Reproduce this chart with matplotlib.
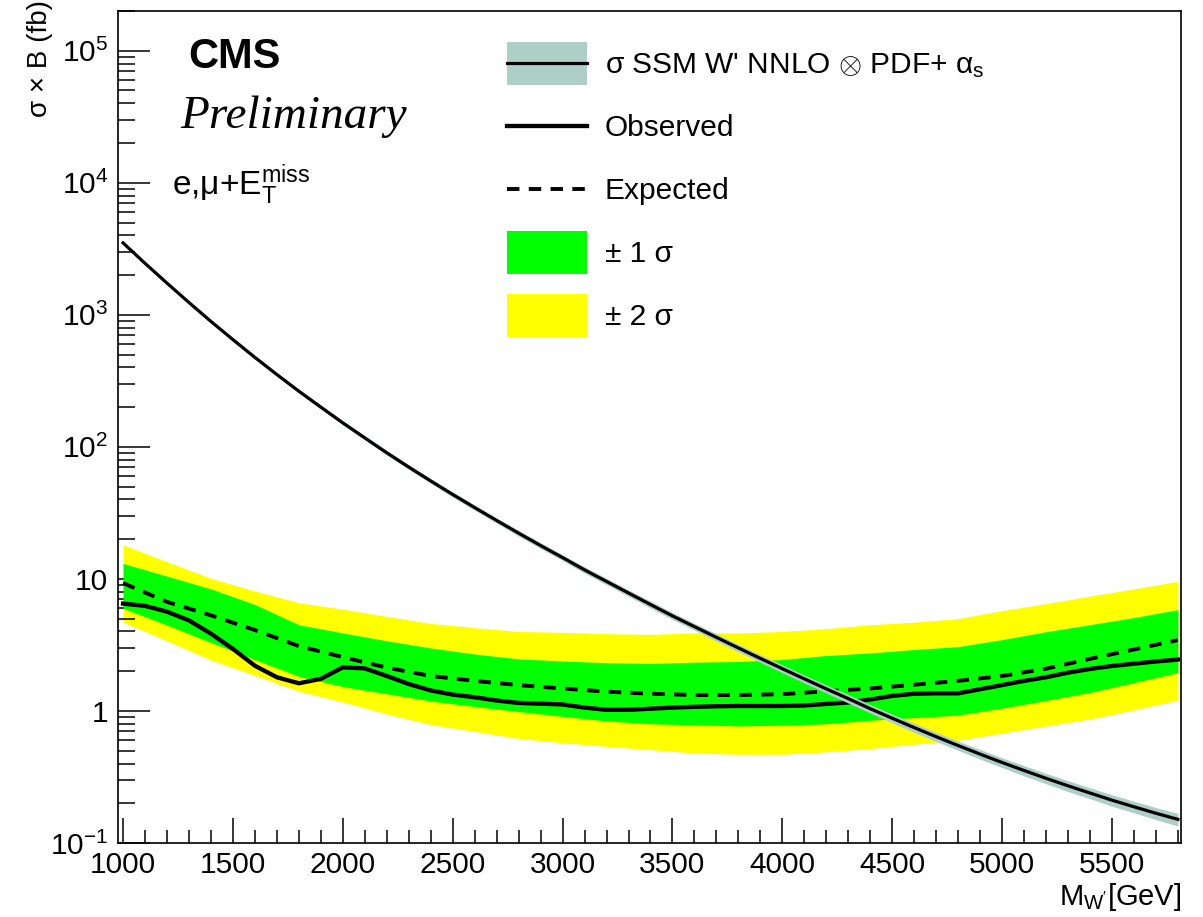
import numpy as np
import matplotlib.pyplot as plt
from matplotlib.patches import Patch
from matplotlib.lines import Line2D
from matplotlib.legend_handler import HandlerTuple, HandlerLine2D
from matplotlib.ticker import FixedLocator, MultipleLocator, FuncFormatter

plt.rcParams['font.family'] = ['Liberation Sans', 'DejaVu Sans']
plt.rcParams['mathtext.fontset'] = 'custom'
plt.rcParams['mathtext.rm'] = 'Liberation Sans'
plt.rcParams['mathtext.it'] = 'Liberation Sans:italic'
plt.rcParams['mathtext.bf'] = 'Liberation Sans:bold'

# --- data ---
mass = list(range(1000, 5801, 200))
expected = [9.3, 6.7, 5.3, 4.1, 3.1, 2.56, 2.13, 1.84, 1.69, 1.57, 1.48, 1.40, 1.35,
            1.32, 1.32, 1.34, 1.41, 1.48, 1.58, 1.69, 1.84, 2.09, 2.48, 2.92, 3.44]
sig1_hi = [13.1, 10.5, 8.4, 6.4, 4.5, 3.9, 3.4, 3.0, 2.7, 2.48, 2.39, 2.32, 2.29,
           2.34, 2.37, 2.45, 2.63, 2.75, 2.92, 3.07, 3.47, 3.98, 4.5, 5.1, 5.85]
sig1_lo = [6.0, 4.47, 3.3, 2.45, 1.83, 1.53, 1.35, 1.19, 1.08, 0.99, 0.91, 0.84, 0.80,
           0.785, 0.77, 0.78, 0.80, 0.85, 0.89, 0.93, 1.05, 1.20, 1.38, 1.64, 1.95]
sig2_hi = [18.1, 13.5, 10.1, 8.1, 6.6, 5.9, 5.2, 4.6, 4.27, 4.0, 3.94, 3.85, 3.8,
           3.9, 3.9, 4.0, 4.2, 4.5, 4.7, 5.0, 5.75, 6.5, 7.4, 8.4, 9.6]
sig2_lo = [4.7, 3.4, 2.43, 1.86, 1.41, 1.17, 0.95, 0.79, 0.70, 0.62, 0.575, 0.54, 0.51,
           0.48, 0.47, 0.47, 0.49, 0.52, 0.56, 0.60, 0.68, 0.77, 0.87, 1.02, 1.21]

mass_fine = list(range(1000, 5801, 100))
theory = [3508, 2455, 1738, 1239, 891, 649, 476, 353, 264, 200, 152, 117, 90.2, 70.3,
          55.2, 43.6, 34.7, 27.7, 22.2, 17.9, 14.5, 11.7, 9.57, 7.82, 6.40, 5.25, 4.35,
          3.61, 3.00, 2.50, 2.09, 1.75, 1.47, 1.24, 1.04, 0.881, 0.748, 0.638, 0.547,
          0.471, 0.407, 0.354, 0.309, 0.271, 0.239, 0.211, 0.188, 0.168, 0.151]
theory_unc = [0.02, 0.02, 0.02, 0.025, 0.025, 0.025, 0.03, 0.03, 0.03, 0.035, 0.035,
              0.035, 0.04, 0.04, 0.04, 0.045, 0.045, 0.045, 0.05, 0.05, 0.05, 0.055,
              0.055, 0.055, 0.06, 0.06, 0.06, 0.065, 0.065, 0.065, 0.07, 0.07, 0.07,
              0.075, 0.075, 0.075, 0.08, 0.08, 0.08, 0.085, 0.085, 0.09, 0.09, 0.095,
              0.095, 0.10, 0.10, 0.105, 0.11]
observed = [6.5, 6.25, 5.65, 4.85, 3.85, 2.95, 2.2, 1.8, 1.62, 1.75, 2.14, 2.1, 1.84, 1.6,
            1.43, 1.33, 1.27, 1.2, 1.15, 1.135, 1.12, 1.06, 1.02, 1.02, 1.04, 1.06, 1.075,
            1.085, 1.09, 1.09, 1.09, 1.10, 1.13, 1.16, 1.22, 1.30, 1.35, 1.36, 1.36, 1.46,
            1.57, 1.69, 1.80, 1.95, 2.08, 2.19, 2.28, 2.37, 2.45]

theory_col = '#aecfc6'
green = '#00ff00'
yellow = '#ffff00'


class CenteredLine(HandlerLine2D):
    # put legend lines in the middle of the (tall) handle box
    def create_artists(self, legend, orig_handle, xdescent, ydescent, width, height,
                       fontsize, trans):
        arts = super().create_artists(legend, orig_handle, xdescent, ydescent, width,
                                      height, fontsize, trans)
        for a in arts:
            a.set_ydata(np.full_like(a.get_xdata(), height / 2 - ydescent))
        return arts


W, H = 1203, 917
fig = plt.figure(figsize=(W / 100, H / 100), dpi=100)
ax = fig.add_axes([118 / W, 1 - 843 / H, (1181 - 118) / W, (843 - 11) / H])

th = np.array(theory)
unc = np.array(theory_unc)

ax.fill_between(mass, sig2_lo, sig2_hi, color=yellow, lw=0, zorder=1)
ax.fill_between(mass, sig1_lo, sig1_hi, color=green, lw=0, zorder=2)
ax.plot(mass, expected, color='k', lw=2.8, dashes=(3.2, 2.4), zorder=3)
ax.plot(mass_fine, observed, color='k', lw=3.1, zorder=4, solid_joinstyle='round')
ax.fill_between(mass_fine, th * (1 - unc), th * (1 + unc), color=theory_col, lw=0, zorder=5)
ax.plot(mass_fine, theory, color='k', lw=2.3, zorder=6, solid_joinstyle='round')

ax.set_yscale('log')
ax.set_xlim(977, 5814)
ax.set_ylim(0.1, 2e5)

ax.xaxis.set_major_locator(MultipleLocator(500))
ax.xaxis.set_minor_locator(MultipleLocator(100))
ax.yaxis.set_major_locator(FixedLocator([0.1, 1, 10, 100, 1e3, 1e4, 1e5]))
minors = [m * 10.0 ** e for e in range(-1, 6) for m in range(2, 10)]
ax.yaxis.set_minor_locator(FixedLocator(minors))


def yfmt(v, pos):
    e = int(round(np.log10(v)))
    if e == 0:
        return '1'
    if e == 1:
        return '10'
    return r'$10^{%d}$' % e


ax.yaxis.set_major_formatter(FuncFormatter(yfmt))
ax.yaxis.set_minor_formatter(FuncFormatter(lambda v, p: ''))

ax.tick_params(axis='both', which='both', direction='in', top=False, right=False,
               width=1.1, labelsize=21.5)
ax.tick_params(axis='x', which='major', length=18, pad=6)
ax.tick_params(axis='x', which='minor', length=9.5)
ax.tick_params(axis='y', which='major', length=23, pad=7)
ax.tick_params(axis='y', which='minor', length=12)
for s in ax.spines.values():
    s.set_linewidth(1.2)

# texts
ax.text((188 - 118) / 1063, (843 - 68) / 832, 'CMS', transform=ax.transAxes,
        fontsize=30, fontweight='bold', va='baseline', ha='left')
ax.text((180 - 118) / 1063, (843 - 128) / 832, 'Preliminary', transform=ax.transAxes,
        fontsize=34, family='Liberation Serif', style='italic', va='baseline', ha='left')
ax.text((172 - 118) / 1063, (843 - 195) / 832, r'e,μ+E$_{\mathrm{T}}^{\mathrm{miss}}$',
        transform=ax.transAxes, fontsize=24, va='baseline', ha='left')

fig.text(40 / W, 1.0, 'σ × B (fb)', rotation=90, ha='center', va='top', fontsize=20)
fig.text(1181 / W, 1 - 905 / H, r"M$_{\mathrm{W}^{\prime}}$[GeV]", ha='right',
         va='baseline', fontsize=21)

# legend
handles = [
    (Patch(facecolor=theory_col, lw=0), Line2D([], [], color='k', lw=2.3)),
    Line2D([], [], color='k', lw=3.1),
    Line2D([], [], color='k', lw=2.8, dashes=(3.2, 2.4)),
    Patch(facecolor=green, lw=0),
    Patch(facecolor=yellow, lw=0),
]
labels = [r"σ SSM W' NNLO $\otimes$ PDF+ α$_{\mathrm{s}}$", 'Observed', 'Expected',
          '± 1 σ', '± 2 σ']
ax.legend(handles, labels,
          handler_map={tuple: HandlerTuple(ndivide=1), Line2D: CenteredLine()},
          loc='upper left', bbox_to_anchor=(507 / W, 1 - 42 / H),
          bbox_transform=fig.transFigure, frameon=False, fontsize=21.5,
          borderpad=0, borderaxespad=0, handlelength=2.68, handleheight=1.835,
          handletextpad=0.6, labelspacing=0.67)

fig.savefig('out.png', dpi=100)
